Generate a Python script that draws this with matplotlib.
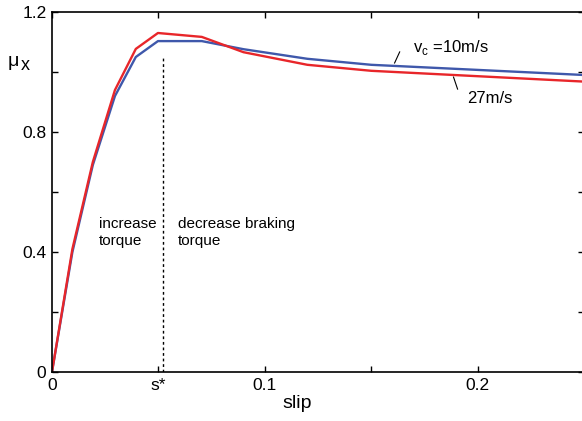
import numpy as np
import matplotlib
matplotlib.use("Agg")
from matplotlib import pyplot as plt

plt.rcParams['font.family'] = ['Liberation Sans', 'DejaVu Sans']
plt.rcParams['mathtext.fontset'] = 'custom'
plt.rcParams['mathtext.rm'] = 'Liberation Sans'

# slip values and friction coefficient for the two speeds
slip = [0, 0.0096, 0.0192, 0.0296, 0.0394, 0.0498, 0.0704, 0.09, 0.12, 0.15, 0.25]
mu_10 = [0, 0.40, 0.69, 0.92, 1.05, 1.103, 1.103, 1.076, 1.044, 1.024, 0.99]
mu_27 = [0, 0.41, 0.70, 0.94, 1.077, 1.13, 1.117, 1.066, 1.024, 1.004, 0.968]

s_star = 0.052
xticks = [0, 0.05, 0.1, 0.15, 0.2]
xlabels = ['0', 's*', '0.1', '', '0.2']
yticks = [0, 0.2, 0.4, 0.6, 0.8, 1.0, 1.2]
ylabels = ['0', '', '0.4', '', '0.8', '', '1.2']

fig = plt.figure(figsize=(5.82, 4.21), dpi=100)
ax = fig.add_axes([0.0893, 0.1164, 0.9141, 0.8551])

ax.plot(slip, mu_10, color='#3f58ab', lw=1.7)
ax.plot(slip, mu_27, color='#e8262a', lw=1.7)
ax.plot([s_star, s_star], [0, 1.05], color='black', lw=1.0, ls=(0, (2, 2)))

ax.set_xlim(0, 0.25)
ax.set_ylim(0, 1.2)
ax.set_xticks(xticks)
ax.set_xticklabels(xlabels)
ax.set_yticks(yticks)
ax.set_yticklabels(ylabels)
ax.tick_params(direction='in', length=4, width=1, labelsize=12.5,
               top=True, right=True, pad=4)
for s in ax.spines.values():
    s.set_linewidth(1.2)

# annotations
ax.text(0.022, 0.465, 'increase\ntorque', fontsize=11, va='center', linespacing=1.25)
ax.text(0.059, 0.465, 'decrease braking\ntorque', fontsize=11, va='center', linespacing=1.25)
ax.text(0.1695, 1.083, r'v$_{\mathrm{c}}$ =10m/s', fontsize=12, va='center')
ax.plot([0.161, 0.1634], [1.03, 1.067], color='black', lw=0.8)
ax.text(0.1953, 0.913, '27m/s', fontsize=12, va='center')
ax.plot([0.1887, 0.1906], [0.983, 0.943], color='black', lw=0.8)

fig.text(297 / 582, 1 - 403 / 421, 'slip', fontsize=14, ha='center', va='center')
fig.text(8 / 582, 1 - 61 / 421, 'μ', fontsize=14, ha='left', va='center')
fig.text(21 / 582, 1 - 66 / 421, 'x', fontsize=13, ha='left', va='center')

fig.savefig('out.png', dpi=100)
